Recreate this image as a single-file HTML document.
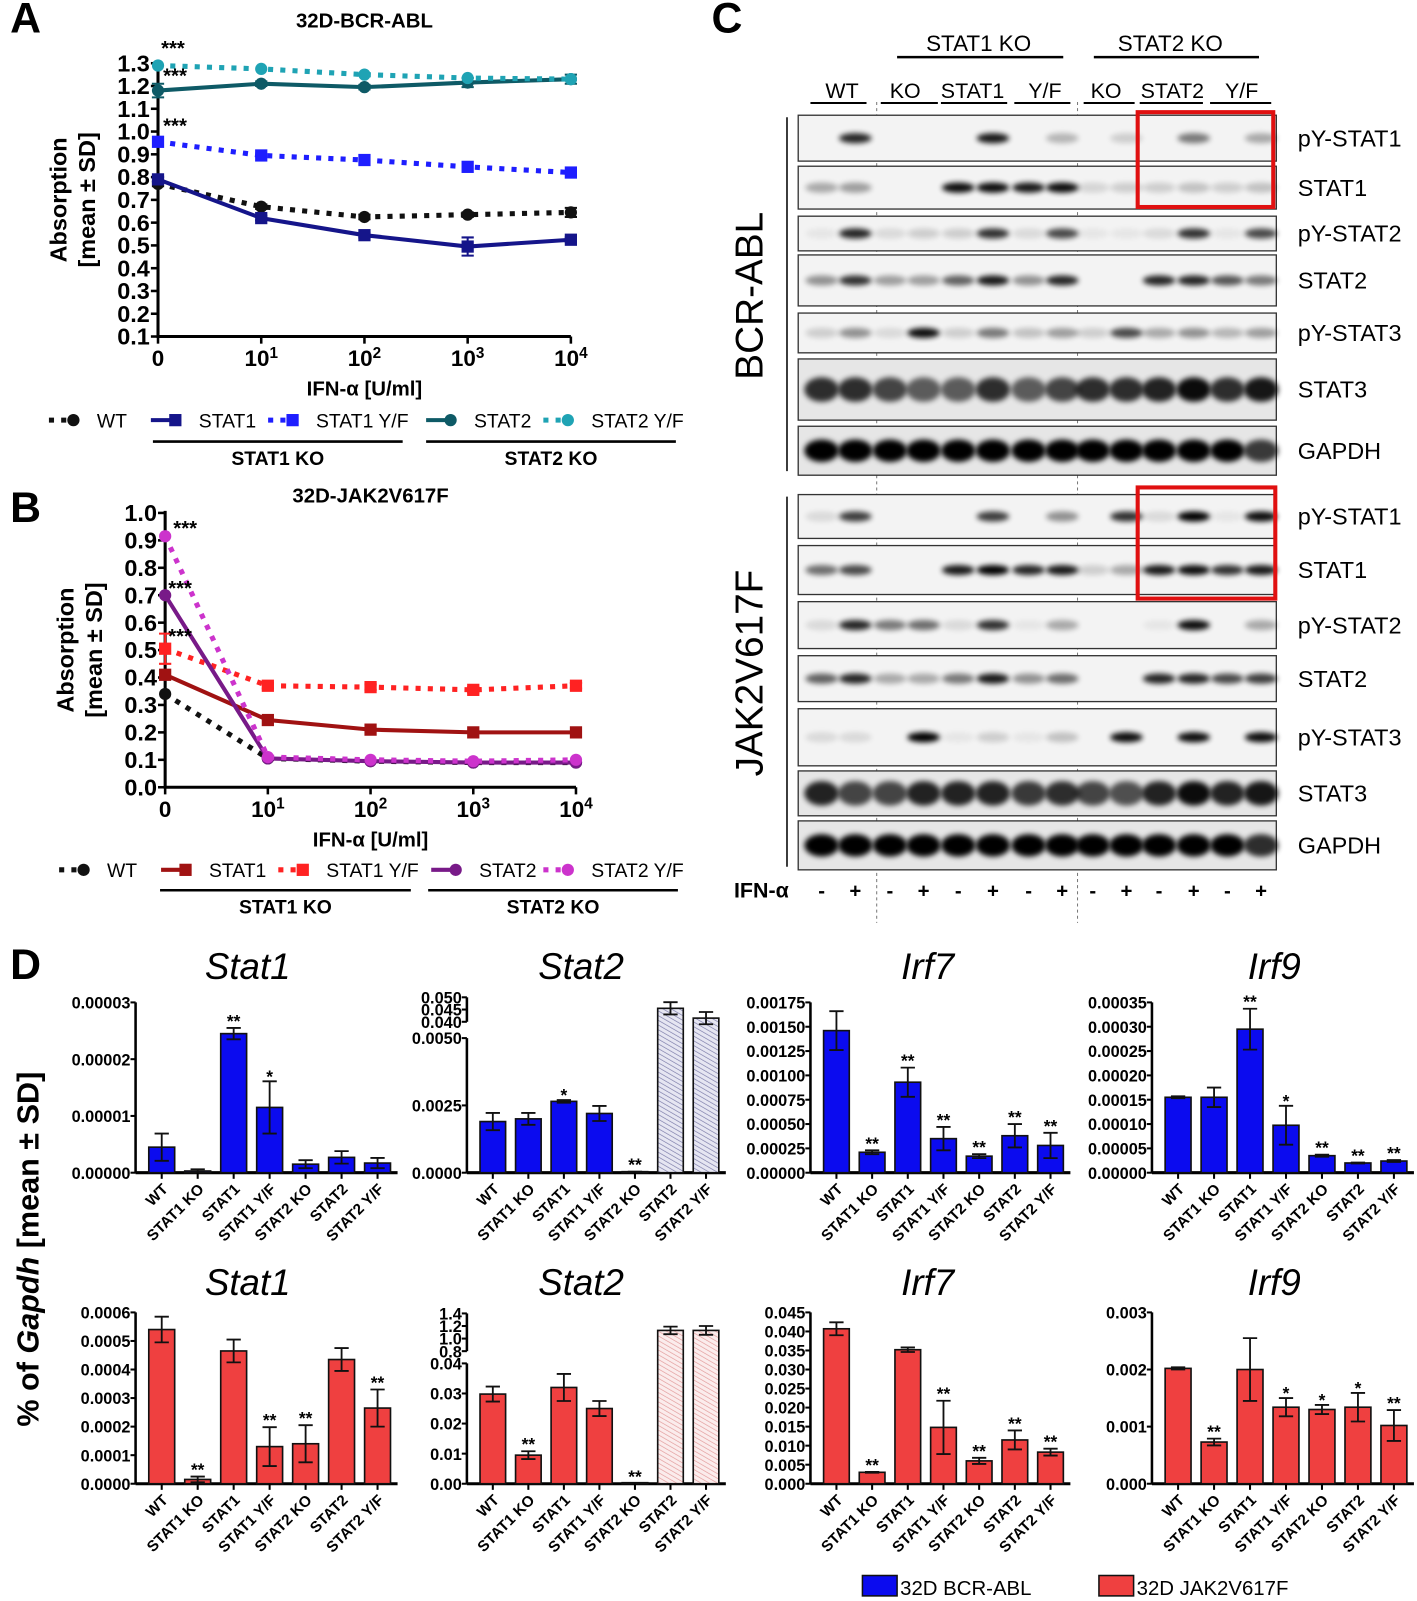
<!DOCTYPE html>
<html><head><meta charset="utf-8"><style>
html,body{margin:0;padding:0;background:#fff;}
svg{display:block;}
text{font-family:"Liberation Sans",sans-serif;}
</style></head><body>
<svg id="fig" xmlns="http://www.w3.org/2000/svg" width="1417" height="1601" viewBox="0 0 1390 1570" preserveAspectRatio="none">
<defs>
<pattern id="hatchBlue" patternUnits="userSpaceOnUse" width="4" height="4" patternTransform="rotate(-60)"><rect width="4" height="4" fill="#e6e6f2"/><line x1="0" y1="0" x2="0" y2="4" stroke="#7a7aa8" stroke-width="1.3"/></pattern>
<pattern id="hatchRed" patternUnits="userSpaceOnUse" width="4" height="4" patternTransform="rotate(-60)"><rect width="4" height="4" fill="#fbecec"/><line x1="0" y1="0" x2="0" y2="4" stroke="#e29a9a" stroke-width="1.3"/></pattern>
<filter id="blur" x="-50%" y="-50%" width="200%" height="200%"><feGaussianBlur stdDeviation="2.6"/></filter>
</defs>
</svg>
<script>
// ===== Panel A data =====
const doseLabels = ['0','10','10','10','10'];
const doseExp = ['','1','2','3','4'];
const aWT = [0.77,0.67,0.625,0.635,0.645];
const aSTAT1 = [0.79,0.62,0.545,0.495,0.525];
const aSTAT1YF = [0.955,0.895,0.875,0.845,0.82];
const aSTAT2 = [1.18,1.21,1.195,1.215,1.23];
const aSTAT2YF = [1.29,1.275,1.25,1.235,1.23];
const aWTerr = [0.01,0.01,0.01,0.01,0.02];
const aSTAT1err = [0.01,0.01,0.01,0.04,0.01];
const aSTAT2err = [0.03,0.01,0.01,0.02,0.02];
const aTicks = [0.1,0.2,0.3,0.4,0.5,0.6,0.7,0.8,0.9,1.0,1.1,1.2,1.3];
// ===== Panel B data =====
const bWT = [0.34,0.105,0.095,0.09,0.09];
const bSTAT1 = [0.41,0.245,0.21,0.2,0.2];
const bSTAT1YF = [0.505,0.37,0.365,0.355,0.37];
const bSTAT2 = [0.70,0.105,0.095,0.09,0.09];
const bSTAT2YF = [0.915,0.11,0.10,0.095,0.10];
const bSTAT1YFerr = [0.055,0.01,0.01,0.01,0.01];
const bTicks = [0.0,0.1,0.2,0.3,0.4,0.5,0.6,0.7,0.8,0.9,1.0];
// ===== Panel D data =====
const dCats = ['WT','STAT1 KO','STAT1','STAT1 Y/F','STAT2 KO','STAT2','STAT2 Y/F'];
const d1Vals = [0.0000045,0.0000003,0.0000245,0.0000115,0.0000015,0.0000027,0.0000017];
const d1Err = [0.0000024,0.0000003,0.000001,0.0000046,0.0000007,0.0000011,0.0000009];
const d1Stars = ['','','**','*','','',''];
const d1Ticks = [0,0.00001,0.00002,0.00003];
const d1TickLabels = ['0.00000','0.00001','0.00002','0.00003'];
const d2Vals = [0.0019,0.002,0.00265,0.0022,0.00003,0.0455,0.0415];
const d2Err = [0.00032,0.00022,0.00005,0.00028,0.00001,0.0025,0.0025];
const d2Stars = ['','','*','','**','',''];
const d2Ticks = [0,0.0025,0.005,0.04,0.045,0.05];
const d2TickLabels = ['0.0000','0.0025','0.0050','0.040','0.045','0.050'];
const d3Vals = [0.00146,0.00021,0.00093,0.00035,0.00017,0.00038,0.00028];
const d3Err = [0.0002,0.00002,0.00015,0.00012,0.00002,0.00012,0.00013];
const d3Stars = ['','**','**','**','**','**','**'];
const d3Ticks = [0,0.00025,0.0005,0.00075,0.001,0.00125,0.0015,0.00175];
const d3TickLabels = ['0.00000','0.00025','0.00050','0.00075','0.00100','0.00125','0.00150','0.00175'];
const d4Vals = [0.000155,0.000155,0.000295,0.0000975,0.000035,0.00002,0.000024];
const d4Err = [0.000002,0.00002,0.000042,0.00004,0.000002,0.000001,0.000002];
const d4Stars = ['','','**','*','**','**','**'];
const d4Ticks = [0,0.00005,0.0001,0.00015,0.0002,0.00025,0.0003,0.00035];
const d4TickLabels = ['0.00000','0.00005','0.00010','0.00015','0.00020','0.00025','0.00030','0.00035'];
const d5Vals = [0.00054,0.000015,0.000465,0.00013,0.00014,0.000435,0.000265];
const d5Err = [0.000045,0.00001,0.00004,0.000068,0.000065,0.00004,0.000065];
const d5Stars = ['','**','','**','**','','**'];
const d5Ticks = [0,0.0001,0.0002,0.0003,0.0004,0.0005,0.0006];
const d5TickLabels = ['0.0000','0.0001','0.0002','0.0003','0.0004','0.0005','0.0006'];
const d6Vals = [0.0298,0.0095,0.032,0.025,0,1.13,1.13];
const d6Err = [0.0025,0.0013,0.0045,0.0025,0,0.06,0.07];
const d6Stars = ['','**','','','**','',''];
const d6Ticks = [0,0.01,0.02,0.03,0.04,0.8,1.0,1.2,1.4];
const d6TickLabels = ['0.00','0.01','0.02','0.03','0.04','0.8','1.0','1.2','1.4'];
const d7Vals = [0.0407,0.003,0.0352,0.0148,0.006,0.0115,0.0083];
const d7Err = [0.0017,0.0001,0.0006,0.007,0.0008,0.0025,0.0009];
const d7Stars = ['','**','','**','**','**','**'];
const d7Ticks = [0,0.005,0.01,0.015,0.02,0.025,0.03,0.035,0.04,0.045];
const d7TickLabels = ['0.000','0.005','0.010','0.015','0.020','0.025','0.030','0.035','0.040','0.045'];
const d8Vals = [0.00202,0.00073,0.002,0.00134,0.0013,0.00134,0.00102];
const d8Err = [0.00002,0.00006,0.00055,0.00016,0.00008,0.00025,0.00027];
const d8Stars = ['','**','','*','*','*','**'];
const d8Ticks = [0,0.001,0.002,0.003];
const d8TickLabels = ['0.000','0.001','0.002','0.003'];
// ===== Panel C band intensities (14 lanes) =====
const blotLabels = ['pY-STAT1','STAT1','pY-STAT2','STAT2','pY-STAT3','STAT3','GAPDH'];
const bcrIntensity = [
 [0,.85,0,0,0,.9,0,.25,0,.15,0,.5,0,.3],
 [.3,.35,0,0,.95,.95,.9,.95,.12,.15,.15,.2,.15,.2],
 [.05,.85,.1,.15,.15,.8,.1,.7,.05,.05,.1,.8,.05,.7],
 [.4,.8,.35,.35,.6,.9,.4,.85,0,0,.85,.85,.65,.5],
 [.15,.4,.1,.95,.15,.5,.2,.35,.15,.7,.3,.4,.25,.35],
 [.8,.8,.7,.6,.6,.8,.6,.7,.8,.8,.85,.95,.8,.9],
 [1,1,1,1,1,1,1,1,1,1,1,1,1,.75]];
const jakIntensity = [
 [.1,.75,0,0,0,.75,0,.4,0,.8,.1,1,.05,.95],
 [.55,.7,0,0,.9,1,.85,.9,.15,.3,.9,.95,.8,.9],
 [.1,.85,.5,.55,.1,.8,.05,.3,0,0,.05,.95,0,.3],
 [.6,.85,.3,.3,.5,.9,.4,.55,0,0,.85,.85,.7,.75],
 [.1,.1,0,1,.05,.15,.05,.2,0,.95,0,.95,0,.95],
 [.85,.7,.7,.85,.85,.85,.75,.8,.7,.65,.85,.95,.85,.9],
 [1,1,1,1,1,1,1,1,1,1,1,1,1,.8]];

const NS='http://www.w3.org/2000/svg';
const svg=document.getElementById('fig');
function mk(tag,attrs,parent){const e=document.createElementNS(NS,tag);for(const k in attrs)e.setAttribute(k,attrs[k]);(parent||svg).appendChild(e);return e;}
function txt(s,x,y,size,opts,parent){opts=opts||{};const t=mk('text',{x:x,y:y,'font-size':size,'text-anchor':opts.anchor||'start','font-weight':opts.bold?'bold':'normal','font-style':opts.italic?'italic':'normal',fill:opts.fill||'#000'},parent);if(opts.transform)t.setAttribute('transform',opts.transform);t.textContent=s;return t;}

[['A',10,32],['B',10,512],['C',698,32],['D',10,960]].forEach(function(p){
 const t=txt(p[0],p[1],p[2],42,{bold:true});
 
 
});

function lineChart(cfg){
 const g=mk('g',{});
 
 
 const ys=function(v){return cfg.yBase-(v-cfg.yMin)/(cfg.yMax-cfg.yMin)*(cfg.yBase-cfg.yTop);};
 const xs=function(i){return cfg.x0+i*(cfg.x1-cfg.x0)/4;};
 const title=txt(cfg.title,(cfg.x0+cfg.x1)/2,cfg.titleY,20,{bold:true,anchor:'middle'},g);
 
 
 const ax=mk('path',{d:'M'+cfg.x0+' '+(cfg.yTop-2)+' V'+cfg.yBase+' H'+cfg.x1,stroke:'#000','stroke-width':3,fill:'none'},g);
 
 
 cfg.ticks.forEach(function(v){
  const y=ys(v);
  mk('line',{x1:cfg.x0-7,x2:cfg.x0,y1:y,y2:y,stroke:'#000','stroke-width':2.5},g);
  const t=txt(v.toFixed(1),cfg.x0-8,y+8,23,{bold:true,anchor:'end'},g);
  
  
 });
 for(let i=0;i<5;i++){
  const x=xs(i);
  mk('line',{x1:x,x2:x,y1:cfg.yBase,y2:cfg.yBase+7,stroke:'#000','stroke-width':2.5},g);
  const t=mk('text',{x:x,y:cfg.yBase+29,'font-size':22,'font-weight':'bold','text-anchor':'middle'},g);
  
  
  t.textContent=doseLabels[i];
  if(doseExp[i]){const ts=mk('tspan',{dy:-8,'font-size':15},t);ts.textContent=doseExp[i];}
 }
 const xt=txt('IFN-\u03b1 [U/ml]',(cfg.x0+cfg.x1)/2,cfg.yBase+58,20,{bold:true,anchor:'middle'},g);
 
 
 const yc=(cfg.yTop+cfg.yBase)/2;
 const yt1=txt('Absorption',cfg.x0-90,yc,23,{bold:true,anchor:'middle',transform:'rotate(-90 '+(cfg.x0-90)+' '+yc+')'},g);
 
 
 const yt2=txt('[mean \u00b1 SD]',cfg.x0-62,yc,23,{bold:true,anchor:'middle',transform:'rotate(-90 '+(cfg.x0-62)+' '+yc+')'},g);
 
 
 cfg.series.forEach(function(s){
  const sg=mk('g',{},g);
  
  
  const pts=s.vals.map(function(v,i){return xs(i)+','+ys(v);}).join(' ');
  const pl=mk('polyline',{points:pts,fill:'none',stroke:s.color,'stroke-width':s.dotted?5:4,'stroke-dasharray':s.dotted?'5 7':'none'},sg);
  
  
  s.vals.forEach(function(v,i){
   const x=xs(i),y=ys(v);
   if(s.err){const e=s.err[i];const y1=ys(v+e),y2=ys(v-e);
    const eb=mk('path',{d:'M'+x+' '+y1+'V'+y2+'M'+(x-6)+' '+y1+'H'+(x+6)+'M'+(x-6)+' '+y2+'H'+(x+6),stroke:s.color,'stroke-width':2,fill:'none'},sg);
    
    }
   let m;
   if(s.shape==='square')m=mk('rect',{x:x-6,y:y-6,width:12,height:12,fill:s.color},sg);
   else m=mk('circle',{cx:x,cy:y,r:6,fill:s.color},sg);
   
   
  });
 });
 cfg.stars.forEach(function(st){
  const t=txt('***',st[0],ys(st[1]),20,{bold:true},g);
  
  
 });
 const lg=mk('g',{},g);
 
 
 const ly=cfg.legendY;
 cfg.series.forEach(function(s,i){
  const lx=cfg.legendX[i];
  const item=mk('g',{},lg);
  
  
  mk('line',{x1:lx-22,x2:lx+4,y1:ly,y2:ly,stroke:s.color,'stroke-width':s.dotted?5:4,'stroke-dasharray':s.dotted?'5 7':'none'},item);
  if(s.shape==='square')mk('rect',{x:lx-4,y:ly-6,width:12,height:12,fill:s.color},item);
  else mk('circle',{cx:lx+2,cy:ly,r:6,fill:s.color},item);
  txt(s.label,lx+25,ly+7,19,{},item);
 });
 const bl=cfg.bracketY;
 mk('line',{x1:cfg.br1[0],x2:cfg.br1[1],y1:bl,y2:bl,stroke:'#000','stroke-width':2.5},lg);
 mk('line',{x1:cfg.br2[0],x2:cfg.br2[1],y1:bl,y2:bl,stroke:'#000','stroke-width':2.5},lg);
 const g1=txt('STAT1 KO',(cfg.br1[0]+cfg.br1[1])/2,bl+23,19,{bold:true,anchor:'middle'},lg);
 
 
 const g2=txt('STAT2 KO',(cfg.br2[0]+cfg.br2[1])/2,bl+23,19,{bold:true,anchor:'middle'},lg);
 
 
}

lineChart({name:'chart-a-bcr-abl',title:'32D-BCR-ABL',titleY:27,x0:155,x1:560,yTop:62,yBase:330,yMin:0.1,yMax:1.3,ticks:aTicks,
 series:[
  {key:'wt',label:'WT',vals:aWT,err:aWTerr,color:'#111',dotted:true,shape:'circle'},
  {key:'stat1',label:'STAT1',vals:aSTAT1,err:aSTAT1err,color:'#15158a',dotted:false,shape:'square'},
  {key:'stat1-yf',label:'STAT1 Y/F',vals:aSTAT1YF,color:'#1e1eff',dotted:true,shape:'square'},
  {key:'stat2',label:'STAT2',vals:aSTAT2,err:aSTAT2err,color:'#0e5a66',dotted:false,shape:'circle'},
  {key:'stat2-yf',label:'STAT2 Y/F',vals:aSTAT2YF,color:'#1fa3b4',dotted:true,shape:'circle'}],
 stars:[[158,1.335],[160,1.215],[160,0.995]],
 legendX:[70,170,285,440,555],legendY:412,bracketY:433,br1:[150,395],br2:[418,663]});

lineChart({name:'chart-b-jak2',title:'32D-JAK2V617F',titleY:493,x0:162,x1:565,yTop:503,yBase:772,yMin:0,yMax:1.0,ticks:bTicks,
 series:[
  {key:'wt',label:'WT',vals:bWT,color:'#111',dotted:true,shape:'circle'},
  {key:'stat1',label:'STAT1',vals:bSTAT1,color:'#a01212',dotted:false,shape:'square'},
  {key:'stat1-yf',label:'STAT1 Y/F',vals:bSTAT1YF,err:bSTAT1YFerr,color:'#ff2222',dotted:true,shape:'square'},
  {key:'stat2',label:'STAT2',vals:bSTAT2,color:'#781a88',dotted:false,shape:'circle'},
  {key:'stat2-yf',label:'STAT2 Y/F',vals:bSTAT2YF,color:'#cc33cc',dotted:true,shape:'circle'}],
 stars:[[170,0.92],[165,0.7],[165,0.525]],
 legendX:[80,180,295,445,555],legendY:853,bracketY:873,br1:[157,403],br2:[420,665]});

(function(){
 const g=mk('g',{});
 
 
 const lanes=[806,839,873,906,940,974,1009,1042,1072,1105,1137,1171,1204,1237];
 const h1=txt('STAT1 KO',960,50,22,{anchor:'middle'},g);
 
 
 mk('line',{x1:880,x2:1043,y1:56,y2:56,stroke:'#000','stroke-width':2.5},g);
 const h2=txt('STAT2 KO',1148,50,22,{anchor:'middle'},g);
 
 
 mk('line',{x1:1073,x2:1235,y1:56,y2:56,stroke:'#000','stroke-width':2.5},g);
 [['WT',826,795,850],['KO',888,864,920],['STAT1',954,923,988],['Y/F',1025,995,1050],['KO',1085,1063,1113],['STAT2',1150,1118,1180],['Y/F',1218,1187,1247]].forEach(function(l){
  const t=txt(l[0],l[1],96,21,{anchor:'middle'},g);
  
  
  mk('line',{x1:l[2],x2:l[3],y1:101,y2:101,stroke:'#000','stroke-width':2},g);
 });
 mk('line',{x1:860,x2:860,y1:100,y2:905,stroke:'#777','stroke-width':1,'stroke-dasharray':'3 3'},g);
 mk('line',{x1:1057,x2:1057,y1:100,y2:905,stroke:'#777','stroke-width':1,'stroke-dasharray':'3 3'},g);
 const bcrRows=[[113,158],[163,205],[212,246],[250,300],[307,346],[352,412],[418,466]];
 const jakRows=[[485,528],[535,583],[590,636],[643,688],[695,751],[756,800],[805,853]];
 function drawBlot(rows,ints,tag){
  rows.forEach(function(r,ri){
   const bg=mk('g',{},g);
   
   
   const strong=ri>=5;
   mk('rect',{x:783,y:r[0],width:469,height:r[1]-r[0],fill:strong?'#e6e6e6':'#f3f3f3',stroke:'#333','stroke-width':1.3},bg);
   const cy=(r[0]+r[1])/2;
   const bh=ri===6?22:(ri===5?24:10);
   const rx=ri>=5?17:16;
   ints[ri].forEach(function(v,li){
    if(v<=0)return;
    const b=mk('ellipse',{cx:lanes[li],cy:cy,rx:rx,ry:bh/2,fill:'#000',opacity:v,filter:'url(#blur)'},bg);
    
    
   });
   const lab=txt(blotLabels[ri],1273,cy+8,23,{},bg);
   
   
  });
 }
 drawBlot(bcrRows,bcrIntensity,'bcr-abl');
 drawBlot(jakRows,jakIntensity,'jak2');
 mk('line',{x1:772,x2:772,y1:115,y2:462,stroke:'#000','stroke-width':1.5},g);
 mk('line',{x1:772,x2:772,y1:487,y2:850,stroke:'#000','stroke-width':1.5},g);
 const r1=txt('BCR-ABL',748,290,38,{anchor:'middle',transform:'rotate(-90 748 290)'},g);
 
 
 const r2=txt('JAK2V617F',748,660,38,{anchor:'middle',transform:'rotate(-90 748 660)'},g);
 
 
 const bx1=mk('rect',{x:1116,y:110,width:133,height:93,fill:'none',stroke:'#e01010','stroke-width':4},g);
 
 
 const bx2=mk('rect',{x:1116,y:478,width:135,height:109,fill:'none',stroke:'#e01010','stroke-width':4},g);
 
 
 const ifn=txt('IFN-\u03b1',720,880,21,{bold:true},g);
 
 
 lanes.forEach(function(x,i){
  const t=txt(i%2?'+':'-',x,880,20,{bold:true,anchor:'middle'},g);
  
  
 });
})();

function barChart(cfg){
 const g=mk('g',{});
 
 
 const t=txt(cfg.title,cfg.titleX,cfg.titleY,36,{italic:true,anchor:'middle'},g);
 
 
 const ys=cfg.scale;
 if(cfg.breakAt){
  mk('path',{d:'M'+cfg.x0+' '+ys(cfg.breakAt[0])+' V'+cfg.yBase,stroke:'#000','stroke-width':2.5,fill:'none'},g);
  mk('path',{d:'M'+cfg.x0+' '+ys(cfg.breakAt[1])+' V'+ys(cfg.breakAt[2]),stroke:'#000','stroke-width':2.5,fill:'none'},g);
 } else {
  mk('path',{d:'M'+cfg.x0+' '+ys(cfg.ticks[cfg.ticks.length-1])+' V'+cfg.yBase,stroke:'#000','stroke-width':2.5,fill:'none'},g);
 }
 mk('path',{d:'M'+cfg.x0+' '+cfg.yBase+' H'+cfg.xEnd,stroke:'#000','stroke-width':3,fill:'none'},g);
 cfg.ticks.forEach(function(v,i){
  const y=ys(v);
  mk('line',{x1:cfg.x0-5,x2:cfg.x0,y1:y,y2:y,stroke:'#000','stroke-width':2},g);
  const tl=txt(cfg.tickLabels[i],cfg.x0-5,y+6,16,{bold:true,anchor:'end'},g);
  
  
 });
 const step=(cfg.xEnd-cfg.x0-10)/7;
 cfg.vals.forEach(function(v,i){
  const cx=cfg.x0+8+step*(i+0.5);
  const w=step*0.72;
  const yv=ys(v);
  const hatched=cfg.hatched&&i>=5;
  const b=mk('rect',{x:cx-w/2,y:Math.min(yv,cfg.yBase-1),width:w,height:Math.max(cfg.yBase-yv,1),fill:hatched?cfg.hatchFill:cfg.color,stroke:'#111','stroke-width':1.6},g);
  
  
  const e=cfg.err[i];
  if(e>0){
   const y1=ys(v+e),y2=ys(Math.max(v-e,0));
   const eb=mk('path',{d:'M'+cx+' '+y1+'V'+y2+'M'+(cx-7)+' '+y1+'H'+(cx+7)+'M'+(cx-7)+' '+y2+'H'+(cx+7),stroke:'#111','stroke-width':1.8,fill:'none'},g);
   
   
  }
  mk('line',{x1:cx,x2:cx,y1:cfg.yBase,y2:cfg.yBase+6,stroke:'#000','stroke-width':2},g);
  if(cfg.stars[i]){
   const sy=ys(v+e)-5;
   const st=txt(cfg.stars[i],cx,sy+(cfg.stars[i]==='*'?6:4),17,{bold:true,anchor:'middle'},g);
   
   
  }
  const lx=cx+7,ly=cfg.yBase+17;
  const cl=txt(dCats[i],lx,ly,15,{bold:true,anchor:'end',transform:'rotate(-45 '+lx+' '+ly+')'},g);
  
  
 });
}
function lin(vmax,yTop,yBase){return function(v){return yBase-v/vmax*(yBase-yTop);};}
const topBase=1150, botBase=1455;
barChart({name:'chart-d-stat1-bcr',title:'Stat1',titleX:243,titleY:960,x0:133,xEnd:390,yBase:topBase,scale:lin(0.00003,983,topBase),ticks:d1Ticks,tickLabels:d1TickLabels,vals:d1Vals,err:d1Err,stars:d1Stars,color:'#0b0bef'});
barChart({name:'chart-d-stat2-bcr',title:'Stat2',titleX:570,titleY:960,x0:458,xEnd:712,yBase:topBase,
 scale:function(v){return v<=0.005?topBase-v/0.005*(topBase-1018):1002-(v-0.04)/0.01*(1002-978);},breakAt:[0.005,0.04,0.05],
 ticks:d2Ticks,tickLabels:d2TickLabels,vals:d2Vals,err:d2Err,stars:d2Stars,color:'#0b0bef',hatched:true,hatchFill:'url(#hatchBlue)'});
barChart({name:'chart-d-irf7-bcr',title:'Irf7',titleX:910,titleY:960,x0:795,xEnd:1050,yBase:topBase,scale:lin(0.00175,983,topBase),ticks:d3Ticks,tickLabels:d3TickLabels,vals:d3Vals,err:d3Err,stars:d3Stars,color:'#0b0bef'});
barChart({name:'chart-d-irf9-bcr',title:'Irf9',titleX:1250,titleY:960,x0:1130,xEnd:1387,yBase:topBase,scale:lin(0.00035,983,topBase),ticks:d4Ticks,tickLabels:d4TickLabels,vals:d4Vals,err:d4Err,stars:d4Stars,color:'#0b0bef'});
barChart({name:'chart-d-stat1-jak2',title:'Stat1',titleX:243,titleY:1270,x0:133,xEnd:390,yBase:botBase,scale:lin(0.0006,1287,botBase),ticks:d5Ticks,tickLabels:d5TickLabels,vals:d5Vals,err:d5Err,stars:d5Stars,color:'#ef4040'});
barChart({name:'chart-d-stat2-jak2',title:'Stat2',titleX:570,titleY:1270,x0:458,xEnd:712,yBase:botBase,
 scale:function(v){return v<=0.04?botBase-v/0.04*(botBase-1337):1325-(v-0.8)/0.6*(1325-1288);},breakAt:[0.04,0.8,1.4],
 ticks:d6Ticks,tickLabels:d6TickLabels,vals:d6Vals,err:d6Err,stars:d6Stars,color:'#ef4040',hatched:true,hatchFill:'url(#hatchRed)'});
barChart({name:'chart-d-irf7-jak2',title:'Irf7',titleX:910,titleY:1270,x0:795,xEnd:1050,yBase:botBase,scale:lin(0.045,1287,botBase),ticks:d7Ticks,tickLabels:d7TickLabels,vals:d7Vals,err:d7Err,stars:d7Stars,color:'#ef4040'});
barChart({name:'chart-d-irf9-jak2',title:'Irf9',titleX:1250,titleY:1270,x0:1130,xEnd:1387,yBase:botBase,scale:lin(0.003,1287,botBase),ticks:d8Ticks,tickLabels:d8TickLabels,vals:d8Vals,err:d8Err,stars:d8Stars,color:'#ef4040'});

(function(){
 const t=mk('text',{x:38,y:1225,'font-size':30,'font-weight':'bold','text-anchor':'middle',transform:'rotate(-90 38 1225)'});
 
 
 const a=mk('tspan',{},t);a.textContent='% of ';
 const b=mk('tspan',{'font-style':'italic'},t);b.textContent='Gapdh';
 const c=mk('tspan',{},t);c.textContent=' [mean \u00b1 SD]';
 const lg=mk('g',{});
 
 
 const e1=mk('g',{},lg);
 
 
 mk('rect',{x:846,y:1545,width:34,height:20,fill:'#0b0bef',stroke:'#111','stroke-width':1.5},e1);
 txt('32D BCR-ABL',883,1564,20,{},e1);
 const e2=mk('g',{},lg);
 
 
 mk('rect',{x:1078,y:1545,width:34,height:20,fill:'#ef4040',stroke:'#111','stroke-width':1.5},e2);
 txt('32D JAK2V617F',1115,1564,20,{},e2);
})();
</script>
</body></html>
